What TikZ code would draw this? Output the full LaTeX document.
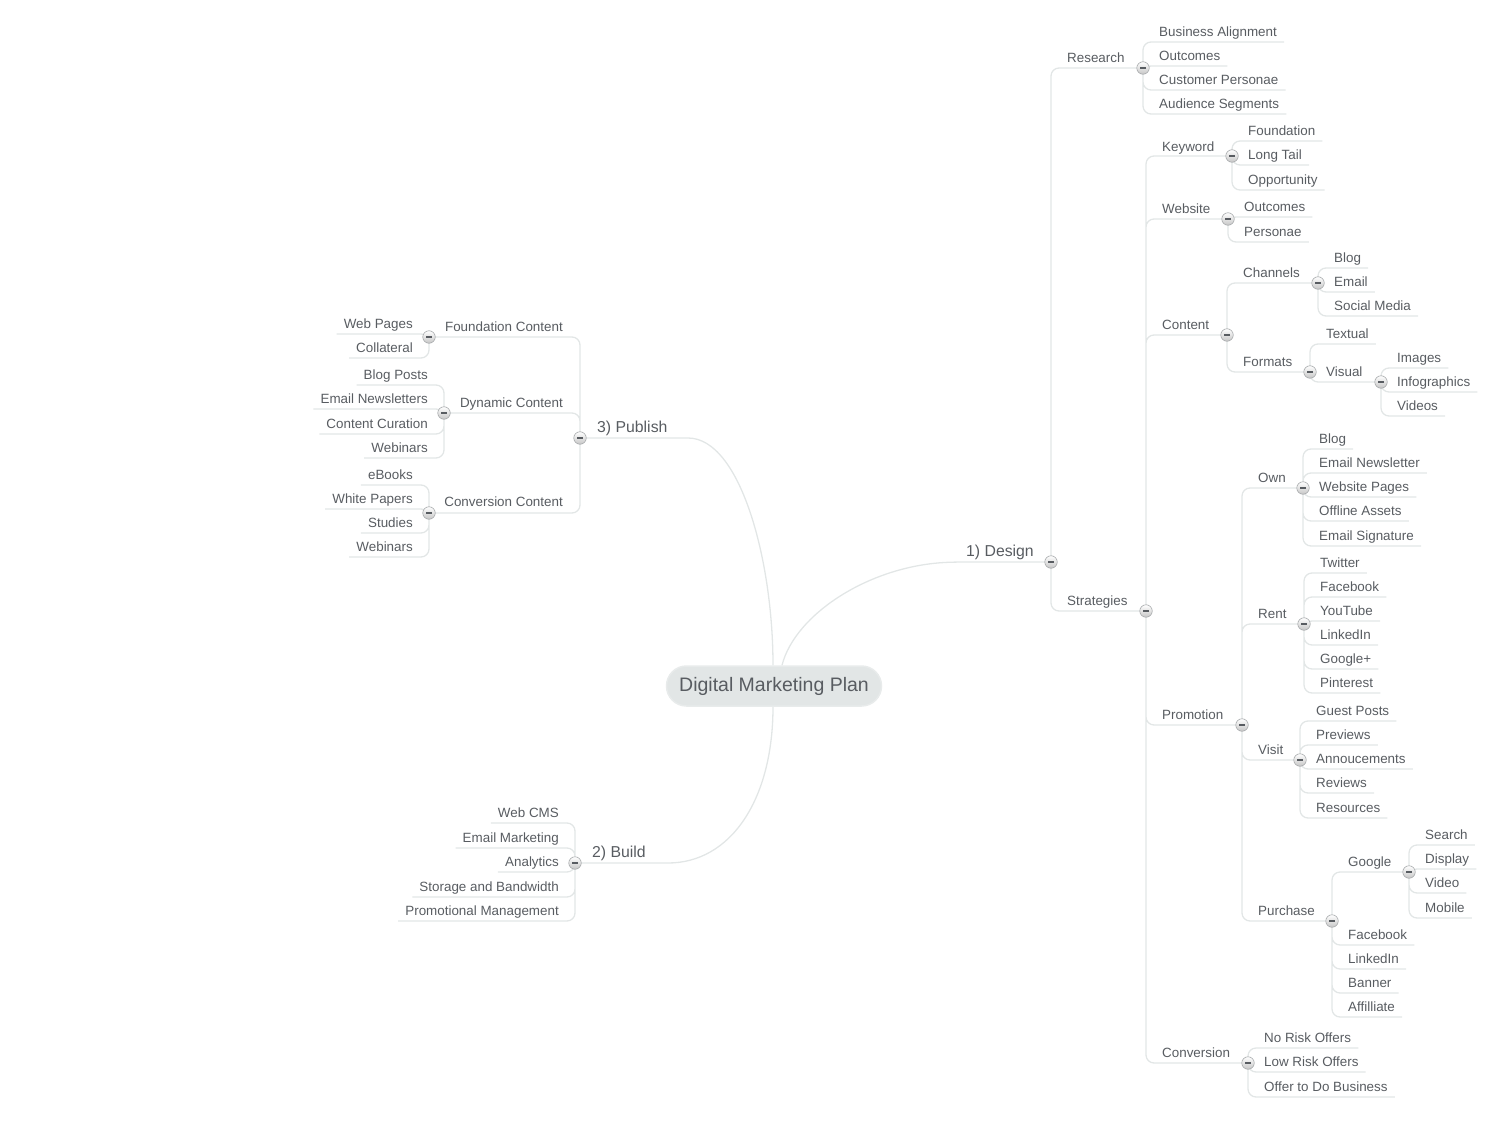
\documentclass[tikz,border=0pt]{standalone}
\usepackage{fontspec}
\setmainfont{Liberation Sans}
\usetikzlibrary{backgrounds}
\definecolor{txt}{RGB}{88,92,97}
\definecolor{linkc}{RGB}{226,230,230}
\definecolor{rootfill}{RGB}{226,230,230}
\definecolor{foldline}{RGB}{165,168,170}
\tikzstyle{leaf}=[font=\fontsize{13.4pt}{16pt}\selectfont,text=txt,text height=10pt,text depth=2.5pt,inner ysep=3pt,inner xsep=7pt,anchor=south west]
\tikzstyle{lleaf}=[leaf,anchor=south east]
\tikzstyle{branch}=[leaf,font=\fontsize{15.8pt}{19pt}\selectfont,text height=12pt]
\tikzstyle{root}=[draw=rootfill!80!white,fill=rootfill,text=txt,rounded corners=20pt,minimum width=215pt,minimum height=40pt,font=\fontsize{19.5pt}{23pt}\selectfont,line width=1.5pt]
\tikzstyle{fold}=[circle,draw=foldline,line width=0.6pt,top color=white,bottom color=gray!45,inner sep=0pt,minimum size=12.5pt,path picture={\draw[txt,line width=2pt] ([xshift=-2.8pt]path picture bounding box.center) -- ([xshift=2.8pt]path picture bounding box.center);}]
\tikzstyle{link}=[draw=linkc,line width=1.3pt,rounded corners=8pt]

\begin{document}
\begin{tikzpicture}[x=1pt,y=-1pt]
  \useasboundingbox (0,0) rectangle (1500,1124);
  \node[root] (plan) at (774,686) {Digital Marketing Plan};

  % 1) Design
  \node[branch,anchor=south east] (design) at (1041,562) {1) Design};
  \node[fold] (designF) at (1051,562) {};
  \node[leaf] (research) at (1060,68) {Research};
  \node[fold] (researchF) at (1143,68) {};
  \node[leaf] (bizalign) at (1152,42) {Business Alignment};
  \node[leaf] (outcomesR) at (1152,66) {Outcomes};
  \node[leaf] (personae) at (1152,90) {Customer Personae};
  \node[leaf] (segments) at (1152,114) {Audience Segments};
  \node[leaf] (strategies) at (1060,611) {Strategies};
  \node[fold] (strategiesF) at (1146,611) {};
  % keyword, website
  \node[leaf] (keyword) at (1155,157) {Keyword};
  \node[fold] (keywordF) at (1232,156) {};
  \node[leaf] (foundation) at (1241,141) {Foundation};
  \node[leaf] (longtail) at (1241,165) {Long Tail};
  \node[leaf] (opportunity) at (1241,190) {Opportunity};
  \node[leaf] (website) at (1155,219) {Website};
  \node[fold] (websiteF) at (1228,219) {};
  \node[leaf] (outcomesW) at (1237,217) {Outcomes};
  \node[leaf] (personaeW) at (1237,242) {Personae};
  % content
  \node[leaf] (content) at (1155,335) {Content};
  \node[fold] (contentF) at (1227,335) {};
  \node[leaf] (channels) at (1236,283) {Channels};
  \node[fold] (channelsF) at (1318,283) {};
  \node[leaf] (blogC) at (1327,268) {Blog};
  \node[leaf] (emailC) at (1327,292) {Email};
  \node[leaf] (social) at (1327,316) {Social Media};
  \node[leaf] (formats) at (1236,372) {Formats};
  \node[fold] (formatsF) at (1310,372) {};
  \node[leaf] (textual) at (1319,344) {Textual};
  \node[leaf] (visual) at (1319,382) {Visual};
  \node[fold] (visualF) at (1381,382) {};
  \node[leaf] (images) at (1390,368) {Images};
  \node[leaf] (infographics) at (1390,392) {Infographics};
  \node[leaf] (videos) at (1390,416) {Videos};
  % promotion
  \node[leaf] (promotion) at (1155,725) {Promotion};
  \node[fold] (promotionF) at (1242,725) {};
  \node[leaf] (own) at (1251,488) {Own};
  \node[fold] (ownF) at (1303,488) {};
  \node[leaf] (blogO) at (1312,449) {Blog};
  \node[leaf] (newsletter) at (1312,473) {Email Newsletter};
  \node[leaf] (webpages) at (1312,497) {Website Pages};
  \node[leaf] (offline) at (1312,521) {Offline Assets};
  \node[leaf] (signature) at (1312,546) {Email Signature};
  \node[leaf] (rent) at (1251,624) {Rent};
  \node[fold] (rentF) at (1304,624) {};
  \node[leaf] (twitter) at (1313,573) {Twitter};
  \node[leaf] (facebookR) at (1313,597) {Facebook};
  \node[leaf] (youtube) at (1313,621) {YouTube};
  \node[leaf] (linkedinR) at (1313,645) {LinkedIn};
  \node[leaf] (gplus) at (1313,669) {Google+};
  \node[leaf] (pinterest) at (1313,693) {Pinterest};
  \node[leaf] (visit) at (1251,760) {Visit};
  \node[fold] (visitF) at (1300,760) {};
  \node[leaf] (guest) at (1309,721) {Guest Posts};
  \node[leaf] (previews) at (1309,745) {Previews};
  \node[leaf] (announce) at (1309,769) {Annoucements};
  \node[leaf] (reviews) at (1309,793) {Reviews};
  \node[leaf] (resources) at (1309,818) {Resources};
  \node[leaf] (purchase) at (1251,921) {Purchase};
  \node[fold] (purchaseF) at (1332,921) {};
  \node[leaf] (google) at (1341,872) {Google};
  \node[fold] (googleF) at (1409,872) {};
  \node[leaf] (search) at (1418,845) {Search};
  \node[leaf] (display) at (1418,869) {Display};
  \node[leaf] (video) at (1418,893) {Video};
  \node[leaf] (mobile) at (1418,918) {Mobile};
  \node[leaf] (facebookP) at (1341,945) {Facebook};
  \node[leaf] (linkedinP) at (1341,969) {LinkedIn};
  \node[leaf] (banner) at (1341,993) {Banner};
  \node[leaf] (affiliate) at (1341,1017) {Affilliate};
  % conversion
  \node[leaf] (conversion) at (1155,1063) {Conversion};
  \node[fold] (conversionF) at (1248,1063) {};
  \node[leaf] (norisk) at (1257,1048) {No Risk Offers};
  \node[leaf] (lowrisk) at (1257,1072) {Low Risk Offers};
  \node[leaf] (business) at (1257,1097) {Offer to Do Business};

  % 3) Publish
  \node[branch] (publish) at (590,438) {3) Publish};
  \node[fold] (publishF) at (580,438) {};
  \node[lleaf] (foundC) at (570,337) {Foundation Content};
  \node[fold] (foundF) at (429,337) {};
  \node[lleaf] (webp) at (420,334) {Web Pages};
  \node[lleaf] (collateral) at (420,358) {Collateral};
  \node[lleaf] (dynamicC) at (570,413) {Dynamic Content};
  \node[fold] (dynamicF) at (444,413) {};
  \node[lleaf] (blogposts) at (435,385) {Blog Posts};
  \node[lleaf] (newsletters) at (435,409) {Email Newsletters};
  \node[lleaf] (curation) at (435,434) {Content Curation};
  \node[lleaf] (webinarsD) at (435,458) {Webinars};
  \node[lleaf] (convC) at (570,512) {Conversion Content};
  \node[fold] (convF) at (429,513) {};
  \node[lleaf] (ebooks) at (420,485) {eBooks};
  \node[lleaf] (papers) at (420,509) {White Papers};
  \node[lleaf] (studies) at (420,533) {Studies};
  \node[lleaf] (webinarsC) at (420,557) {Webinars};

  % 2) Build
  \node[branch] (build) at (585,863) {2) Build};
  \node[fold] (buildF) at (575,863) {};
  \node[lleaf] (cms) at (566,823) {Web CMS};
  \node[lleaf] (emailmkt) at (566,848) {Email Marketing};
  \node[lleaf] (analytics) at (566,872) {Analytics};
  \node[lleaf] (storage) at (566,897) {Storage and Bandwidth};
  \node[lleaf] (promomgmt) at (566,921) {Promotional Management};

  \begin{scope}[on background layer]
    % main branches
    \draw[link] ([xshift=8pt]plan.north) .. controls +(13,-51) and +(-87,3) .. ([xshift=-94pt]designF.center) -- (designF.center);
    \draw[link] ([xshift=-1pt]plan.north) .. controls +(0,-106) and +(60,0) .. ([xshift=100pt]publishF.center) -- (publishF.center);
    \draw[link] ([xshift=-1pt]plan.south) .. controls +(0,94) and +(70,0) .. ([xshift=85pt]buildF.center) -- (buildF.center);
    % design
    \draw[link] (designF.center) |- (researchF.center) (designF.center) |- (strategiesF.center);
    \draw[link] (researchF.center) |- (bizalign.south east) (researchF.center) |- (outcomesR.south east)
      (researchF.center) |- (personae.south east) (researchF.center) |- (segments.south east);
    \draw[link] (strategiesF.center) |- (keywordF.center) (strategiesF.center) |- (websiteF.center)
      (strategiesF.center) |- (contentF.center) (strategiesF.center) |- (promotionF.center)
      (strategiesF.center) |- (conversionF.center);
    \draw[link] (keywordF.center) |- (foundation.south east) (keywordF.center) |- (longtail.south east)
      (keywordF.center) |- (opportunity.south east);
    \draw[link] (websiteF.center) |- (outcomesW.south east) (websiteF.center) |- (personaeW.south east);
    \draw[link] (contentF.center) |- (channelsF.center) (contentF.center) |- (formatsF.center);
    \draw[link] (channelsF.center) |- (blogC.south east) (channelsF.center) |- (emailC.south east)
      (channelsF.center) |- (social.south east);
    \draw[link] (formatsF.center) |- (textual.south east) (formatsF.center) |- (visualF.center);
    \draw[link] (visualF.center) |- (images.south east) (visualF.center) |- (infographics.south east)
      (visualF.center) |- (videos.south east);
    \draw[link] (promotionF.center) |- (ownF.center) (promotionF.center) |- (rentF.center)
      (promotionF.center) |- (visitF.center) (promotionF.center) |- (purchaseF.center);
    \draw[link] (ownF.center) |- (blogO.south east) (ownF.center) |- (newsletter.south east)
      (ownF.center) |- (webpages.south east) (ownF.center) |- (offline.south east)
      (ownF.center) |- (signature.south east);
    \draw[link] (rentF.center) |- (twitter.south east) (rentF.center) |- (facebookR.south east)
      (rentF.center) |- (youtube.south east) (rentF.center) |- (linkedinR.south east)
      (rentF.center) |- (gplus.south east) (rentF.center) |- (pinterest.south east);
    \draw[link] (visitF.center) |- (guest.south east) (visitF.center) |- (previews.south east)
      (visitF.center) |- (announce.south east) (visitF.center) |- (reviews.south east)
      (visitF.center) |- (resources.south east);
    \draw[link] (purchaseF.center) |- (googleF.center) (purchaseF.center) |- (facebookP.south east)
      (purchaseF.center) |- (linkedinP.south east) (purchaseF.center) |- (banner.south east)
      (purchaseF.center) |- (affiliate.south east);
    \draw[link] (googleF.center) |- (search.south east) (googleF.center) |- (display.south east)
      (googleF.center) |- (video.south east) (googleF.center) |- (mobile.south east);
    \draw[link] (conversionF.center) |- (norisk.south east) (conversionF.center) |- (lowrisk.south east)
      (conversionF.center) |- (business.south east);
    % publish
    \draw[link] (publishF.center) |- (foundF.center) (publishF.center) |- (dynamicF.center)
      (publishF.center) |- (convF.center);
    \draw[link] (foundF.center) |- (webp.south west) (foundF.center) |- (collateral.south west);
    \draw[link] (dynamicF.center) |- (blogposts.south west) (dynamicF.center) |- (newsletters.south west)
      (dynamicF.center) |- (curation.south west) (dynamicF.center) |- (webinarsD.south west);
    \draw[link] (convF.center) |- (ebooks.south west) (convF.center) |- (papers.south west)
      (convF.center) |- (studies.south west) (convF.center) |- (webinarsC.south west);
    % build
    \draw[link] (buildF.center) |- (cms.south west) (buildF.center) |- (emailmkt.south west)
      (buildF.center) |- (analytics.south west) (buildF.center) |- (storage.south west)
      (buildF.center) |- (promomgmt.south west);
  \end{scope}
\end{tikzpicture}
\end{document}
